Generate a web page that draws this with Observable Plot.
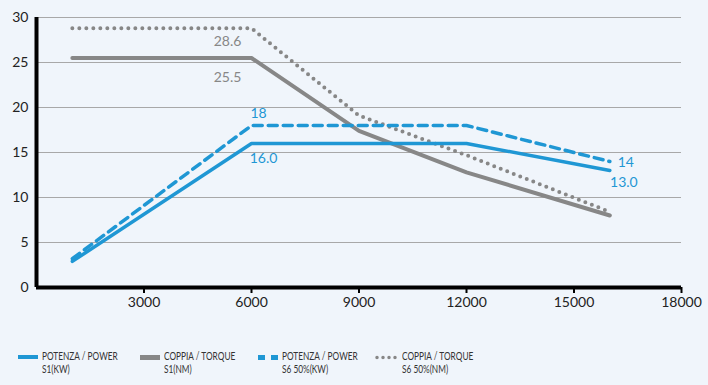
<!DOCTYPE html>
<html><head><meta charset="utf-8">
<script src="https://cdn.jsdelivr.net/npm/d3@7"></script>
<script src="https://cdn.jsdelivr.net/npm/@observablehq/plot@0.6"></script>
<style>
html,body{margin:0;padding:0;background:#f0f5fb;}
body{width:708px;height:385px;overflow:hidden;font-family:Lato,"Open Sans",sans-serif;}
#chart svg{display:block;background:#f0f5fb;}
.legend{position:relative;height:65px;font-family:Lato,sans-serif;font-size:11.5px;color:#333;}
.item{position:absolute;top:29px;display:flex;align-items:flex-start;line-height:13px;white-space:nowrap;}
.sw{width:20px;margin-right:4px;margin-top:6px;}
.txt{transform:scaleX(0.72);transform-origin:0 0;}
</style></head><body>
<div id="chart"></div>
<div class="legend" id="legend"></div>
<script>
const rpm = [1000, 6000, 9000, 12000, 16000];
const powerS1 = [2.9, 16, 16, 16, 13];
const torqueS1 = [25.5, 25.5, 17.4, 12.8, 8.0];
const powerS6 = [3.2, 18, 18, 18, 14];
const torqueS6 = [28.8, 28.8, 19.1, 14.7, 8.4];
const xTicks = [3000, 6000, 9000, 12000, 15000, 18000];
const yTicks = [0, 5, 10, 15, 20, 25, 30];
const seriesNames = ["POTENZA / POWER\nS1(KW)", "COPPIA / TORQUE\nS1(NM)", "POTENZA / POWER\nS6 50%(KW)", "COPPIA / TORQUE\nS6 50%(NM)"];
const labelText = ["28.6", "25.5", "18", "16.0", "14", "13.0"];
const labelX = [6000, 6000, 6000, 6000, 16000, 16000];
const labelY = [28.8, 25.5, 18, 16, 14, 13];

const BLUE = "#1f97d4", GRAY = "#878787";
const mk = (arr) => rpm.map((x, i) => ({x, y: arr[i]}));
const labels = labelText.map((t, i) => ({x: labelX[i], y: labelY[i], t}));
const lab = (i) => [labels[i]];

const chart = Plot.plot({
  width: 708, height: 320,
  marginLeft: 36, marginRight: 27, marginTop: 17, marginBottom: 33,
  style: {background: "#f0f5fb", fontFamily: "Lato, 'Open Sans', sans-serif", fontSize: "14px", color: "#222"},
  x: {domain: [0, 18000], ticks: xTicks, tickFormat: d => String(d), tickSize: 6, tickPadding: 4, label: null},
  y: {domain: [0, 30], ticks: yTicks, tickSize: 0, tickPadding: 8, label: null},
  marks: [
    Plot.gridY(yTicks.filter(d => d > 0), {stroke: "#a8a8a8", strokeOpacity: 1, strokeWidth: 1}),
    Plot.axisX({ticks: xTicks, tickFormat: d => String(d), tickSize: 6, stroke: "#000", strokeWidth: 2, fontSize: 14, tickPadding: 4}),
    Plot.axisY({ticks: yTicks, tickSize: 0, tickPadding: 8, fontSize: 14}),
    Plot.ruleY([0], {stroke: "#000", strokeWidth: 4}),
    Plot.ruleX([0], {stroke: "#000", strokeWidth: 4}),
    Plot.line(mk(torqueS1), {x: "x", y: "y", stroke: GRAY, strokeWidth: 4}),
    Plot.line(mk(torqueS6), {x: "x", y: "y", stroke: GRAY, strokeWidth: 4, strokeDasharray: "0,7", strokeLinecap: "round"}),
    Plot.line(mk(powerS1), {x: "x", y: "y", stroke: BLUE, strokeWidth: 3.5}),
    Plot.line(mk(powerS6), {x: "x", y: "y", stroke: BLUE, strokeWidth: 3.5, strokeDasharray: "9,6"}),
    Plot.text(lab(0), {x: "x", y: "y", text: "t", dx: -24, dy: 13, fill: GRAY, fontSize: 14}),
    Plot.text(lab(1), {x: "x", y: "y", text: "t", dx: -24, dy: 20, fill: GRAY, fontSize: 14}),
    Plot.text(lab(2), {x: "x", y: "y", text: "t", dx: 7, dy: -12, fill: BLUE, fontSize: 14}),
    Plot.text(lab(3), {x: "x", y: "y", text: "t", dx: 12, dy: 15, fill: BLUE, fontSize: 14}),
    Plot.text(lab(4), {x: "x", y: "y", text: "t", dx: 16, dy: 1, fill: BLUE, fontSize: 14}),
    Plot.text(lab(5), {x: "x", y: "y", text: "t", dx: 14, dy: 12, fill: BLUE, fontSize: 14})
  ]
});
document.getElementById("chart").append(chart);

const lefts = [18, 140, 258, 375];
const swatches = [
  `<svg class="sw" width="20" height="4"><line x1="0" y1="2" x2="20" y2="2" stroke="${BLUE}" stroke-width="4"/></svg>`,
  `<svg class="sw" width="20" height="5"><line x1="0" y1="2.5" x2="20" y2="2.5" stroke="${GRAY}" stroke-width="5"/></svg>`,
  `<svg class="sw" width="20" height="5"><line x1="0" y1="2.5" x2="20" y2="2.5" stroke="${BLUE}" stroke-width="5" stroke-dasharray="7,6"/></svg>`,
  `<svg class="sw" width="24" height="5" style="width:24px;margin-right:3px"><line x1="2" y1="2.5" x2="22" y2="2.5" stroke="${GRAY}" stroke-width="3.5" stroke-linecap="round" stroke-dasharray="0,6"/></svg>`
];
const lg = document.getElementById("legend");
seriesNames.forEach((n, i) => {
  const d = document.createElement("div");
  d.className = "item";
  d.style.left = lefts[i] + "px";
  d.innerHTML = swatches[i] + `<div class="txt">${n.replace("\n", "<br>")}</div>`;
  lg.append(d);
});
</script>
</body></html>
